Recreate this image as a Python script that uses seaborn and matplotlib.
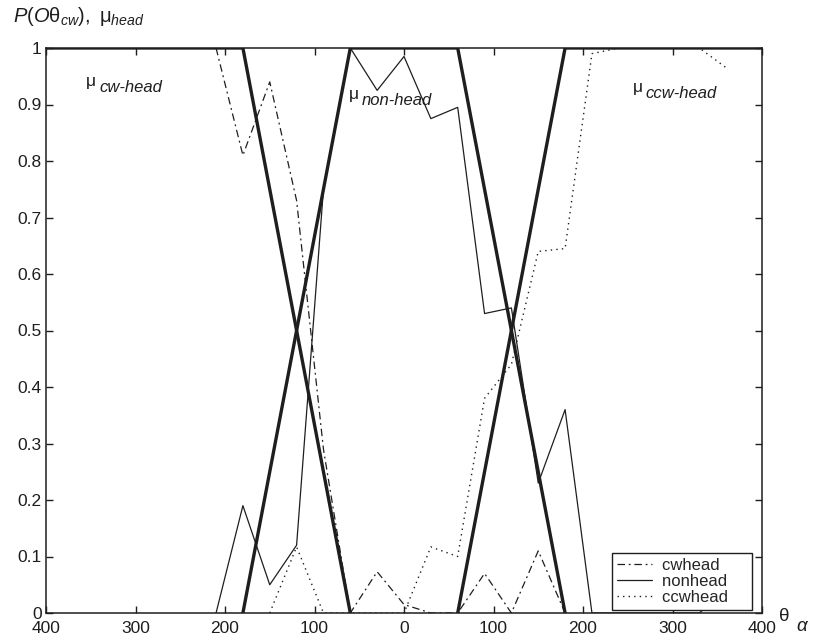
import matplotlib
matplotlib.use("Agg")
import matplotlib.pyplot as plt
import seaborn as sns

# membership functions (thick lines)
cw_mu_x = [-400, -180, -60]
cw_mu_y = [1, 1, 0]
non_mu_x = [-180, -60, 60, 180]
non_mu_y = [0, 1, 1, 0]
ccw_mu_x = [60, 180, 400]
ccw_mu_y = [0, 1, 1]

# observation probabilities (thin lines)
cwhead_x = [-210, -180, -150, -120, -90, -60, -30, 0, 30, 60, 90, 120, 150, 180]
cwhead_y = [1.0, 0.81, 0.94, 0.73, 0.29, 0.0, 0.073, 0.015, 0.0, 0.0, 0.07, 0.0, 0.11, 0.0]

nonhead_x = [-210, -180, -150, -120, -90, -60, -30, 0, 30, 60, 90, 120, 150, 180,
             210, 240, 270, 300, 330, 360]
nonhead_y = [0.0, 0.19, 0.05, 0.12, 0.75, 1.0, 0.925, 0.985, 0.875, 0.895, 0.53, 0.54,
             0.23, 0.36, 0.0, 0.0, 0.0, 0.0, 0.0, 0.04]

ccwhead_x = [-150, -120, -90, -60, -30, 0, 30, 60, 90, 120, 150, 180, 210, 240, 270,
             300, 330, 360]
ccwhead_y = [0.0, 0.117, 0.0, 0.0, 0.0, 0.0, 0.117, 0.10, 0.38, 0.44, 0.64, 0.645, 0.99,
             1.0, 1.0, 1.0, 1.0, 0.965]

x_ticks = [-400, -300, -200, -100, 0, 100, 200, 300, 400]
y_ticks = [0, 0.1, 0.2, 0.3, 0.4, 0.5, 0.6, 0.7, 0.8, 0.9, 1]
y_tick_labels = ["0", "0.1", "0.2", "0.3", "0.4", "0.5", "0.6", "0.7", "0.8", "0.9", "1"]

sns.set_style("ticks")
plt.rcParams["font.family"] = ["Liberation Sans", "DejaVu Sans"]
plt.rcParams["mathtext.fontset"] = "custom"
plt.rcParams["mathtext.rm"] = "Liberation Sans"
plt.rcParams["mathtext.it"] = "Liberation Sans:italic"

ink = "#1e1e1e"

fig = plt.figure(figsize=(8.16, 6.42), dpi=100)
ax = fig.add_axes([46 / 816, 29 / 642, 716 / 816, 565 / 642])

# thick membership lines
for mx, my in [(cw_mu_x, cw_mu_y), (non_mu_x, non_mu_y), (ccw_mu_x, ccw_mu_y)]:
    sns.lineplot(x=mx, y=my, ax=ax, color=ink, linewidth=2.4, sort=False)

# thin probability lines
sns.lineplot(x=cwhead_x, y=cwhead_y, ax=ax, color=ink, linewidth=0.9,
             linestyle=(0, (6, 3, 1.5, 3)), label="cwhead")
sns.lineplot(x=nonhead_x, y=nonhead_y, ax=ax, color=ink, linewidth=0.9,
             linestyle="-", label="nonhead")
sns.lineplot(x=ccwhead_x, y=ccwhead_y, ax=ax, color=ink, linewidth=1.0,
             linestyle=(0, (1, 3)), label="ccwhead")

ax.set_xlim(-400, 400)
ax.set_ylim(0, 1)
ax.set_xticks(x_ticks)
ax.set_xticklabels([str(abs(t)) for t in x_ticks])
ax.set_yticks(y_ticks)
ax.set_yticklabels(y_tick_labels)
ax.tick_params(direction="in", top=True, right=True, length=5, width=1,
               labelsize=12.5, colors=ink)
ax.tick_params(axis="x", pad=6)
ax.tick_params(axis="y", pad=3)
ax.set_xlabel("")
ax.set_ylabel("")
for s in ax.spines.values():
    s.set_visible(True)
    s.set_linewidth(1.1)
    s.set_color(ink)

# region labels
for mx, my, name in [(-350, 0.94, "cw-head"), (-56, 0.917, "non-head"), (261, 0.93, "ccw-head")]:
    ax.text(mx, my, "\u03bc", fontsize=12.5, ha="center", va="center", color=ink)
    ax.annotate(name, xy=(mx, my), xytext=(6, -4), textcoords="offset points",
                fontsize=12, style="italic", ha="left", va="center", color=ink)

# axis titles
fig.text(0.016, 0.965, r"$P(O\mathrm{\theta}_{cw}),\ \mathrm{\mu}_{head}$",
         fontsize=14.5, color=ink, ha="left", va="baseline")
fig.text(0.955, 0.039, "\u03b8", fontsize=13.5, color=ink, ha="left", va="center")
fig.text(0.976, 0.024, "\u03b1", fontsize=13.5, style="italic", color=ink,
         ha="left", va="center")

ax.legend(loc="lower right", bbox_to_anchor=(0.986, 0.006), borderaxespad=0,
          fancybox=False, framealpha=1, edgecolor=ink, fontsize=12,
          handlelength=2.1, handletextpad=0.6, borderpad=0.3, labelspacing=0.05)
ax.get_legend().get_frame().set_linewidth(1.0)
for t in ax.get_legend().get_texts():
    t.set_text(t.get_text() + "    ")

fig.savefig("out.png", dpi=100)
